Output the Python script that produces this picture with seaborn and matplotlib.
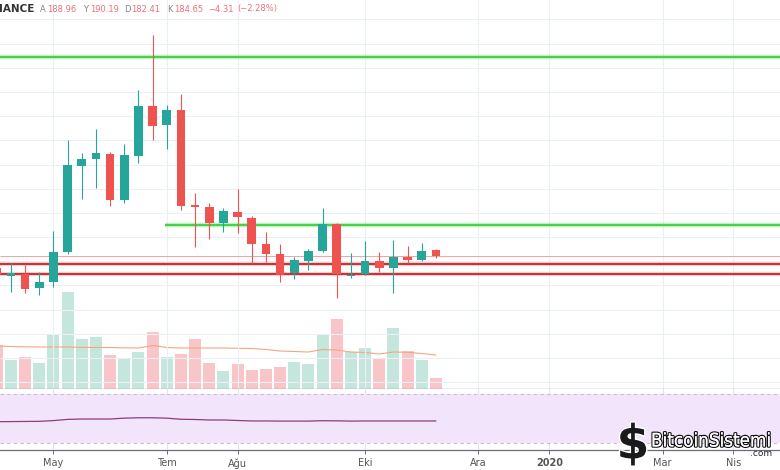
import numpy as np
import pandas as pd
import seaborn as sns
import matplotlib.pyplot as plt
import matplotlib.patheffects as pe

# weekly candles (Binance, 1W)
week_start = '2019-04-08'
opens = [174.5, 167.8, 169.5, 157.9, 162.9, 187.7, 258.8, 264.6, 268.7, 230.7,
         267.1, 308.4, 292.7, 305.1, 226.6, 224.9, 211.7, 220.8, 215.8, 194.3,
         186.0, 170.3, 180.2, 188.5, 210.9, 167.8, 169.5, 180.2, 174.5, 183.6,
         181.1, 188.96]
highs = [176.9, 178.6, 176.9, 171.2, 205.1, 280.3, 269.6, 289.4, 270.5, 277.0,
         321.7, 367.2, 309.3, 318.4, 236.5, 228.2, 224.1, 239.8, 217.5, 204.2,
         194.3, 183.6, 190.2, 224.1, 211.7, 186.9, 196.8, 187.7, 197.6, 192.7,
         195.1, 190.19]
lows = [164.5, 154.6, 153.8, 152.1, 158.7, 186.0, 231.5, 240.6, 225.7, 228.2,
        261.3, 280.3, 272.9, 222.4, 191.8, 198.4, 204.2, 203.4, 178.6, 179.4,
        162.9, 165.4, 172.8, 187.7, 149.7, 166.2, 168.7, 171.2, 153.8, 178.6,
        180.5, 182.41]
closes = [168.7, 170.3, 157.1, 162.9, 187.7, 259.6, 264.6, 269.6, 230.7, 267.9,
          308.4, 291.9, 305.1, 225.7, 224.9, 211.7, 221.6, 216.6, 194.3, 186.0,
          168.7, 181.1, 188.5, 210.9, 169.5, 168.7, 180.2, 174.5, 183.6, 181.1,
          188.5, 184.65]

# volume (thousands) and its moving average
volume = [2200, 1450, 1600, 1300, 2700, 4850, 2500, 2600, 1700, 1500,
          1850, 2850, 1600, 1750, 2500, 1300, 900, 1250, 950, 1000,
          1100, 1350, 1250, 2700, 3500, 1850, 2050, 1500, 3050, 1900,
          1450, 550]
volume_ma = [2150, 2125, 2110, 2100, 2100, 2100, 2085, 2075, 2075, 2060,
             2050, 2175, 2075, 2050, 2050, 2050, 2050, 2035, 2025, 1975,
             1900, 1875, 1850, 1975, 1950, 1850, 1825, 1750, 1850, 1835,
             1775, 1700]

# lower indicator pane
rsi = [47.4, 47.5, 47.6, 47.7, 48.3, 49.3, 49.6, 49.6, 49.6, 50.3,
       50.6, 50.6, 50.3, 49.4, 49.2, 48.8, 48.8, 48.4, 48.0, 48.0,
       47.9, 47.9, 47.9, 48.2, 48.1, 47.9, 48.0, 48.0, 48.0, 48.0,
       48.0, 48.0]

# drawn levels
resistance_top = 349.0
resistance_mid = 210.0
resistance_mid_from = '2019-06-30'
support_levels = [177.4, 169.1]

tick_dates = ['2019-05-06', '2019-07-01', '2019-08-05', '2019-10-07',
              '2019-12-02', '2020-01-06', '2020-03-02', '2020-04-06']
tick_labels = ['May', 'Tem', 'Ağu', 'Eki', 'Ara', '2020', 'Mar', 'Nis']

header_name = 'IANCE'
header_fields = [('A', '188.96'), ('Y', '190.19'), ('D', '182.41'), ('K', '184.65')]
header_change = ['\u22124.31', '(\u22122.28%)']

sns.set_theme(style='white')
plt.rcParams['font.family'] = ['DejaVu Sans']

UP, DOWN = '#26a69a', '#ef5350'
UP_VOL, DOWN_VOL = '#c4e6dc', '#f8c5c9'

df = pd.DataFrame({'date': pd.date_range(week_start, periods=len(opens), freq='7D'),
                   'open': opens, 'high': highs, 'low': lows, 'close': closes,
                   'volume': volume, 'volume_ma': volume_ma, 'rsi': rsi})
up = df['close'] >= df['open']
colors = np.where(up, UP, DOWN)
vol_colors = np.where(up, UP_VOL, DOWN_VOL)

W, H = 780, 470
fig = plt.figure(figsize=(7.8, 4.7), dpi=100)
main_rect = [0, 1 - 389 / H, 1, 389 / H]
ax_vol = fig.add_axes(main_rect)
ax = fig.add_axes(main_rect, sharex=ax_vol)
ax_ind = fig.add_axes([0, 1 - 450 / H, 1, 61 / H], sharex=ax_vol)

start = pd.Timestamp(week_start)
x_left = start + pd.Timedelta(days=1.6)
x_right = start + pd.Timedelta(days=387)
grid_c = '#eceff4'

# volume overlay
ax_vol.bar(df['date'], df['volume'], width=5.9, color=vol_colors, linewidth=0)
sns.lineplot(x=df['date'], y=df['volume_ma'], ax=ax_vol, color='#f3a77c', lw=0.8)
ax_vol.set_ylim(0, 19450)
ax_vol.set_yticks([])
ax_vol.set_ylabel('')
for s in ax_vol.spines.values():
    s.set_visible(False)
ax_vol.tick_params(labelbottom=False, bottom=False)

# price pane
ax.patch.set_visible(False)
ax.set_xticks(pd.to_datetime(tick_dates))
ax.set_yticks(np.arange(80, 400, 20))
ax.grid(True, color=grid_c, lw=0.8)
ax.tick_params(labelbottom=False, labelleft=False, bottom=False, left=False)
for name, s in ax.spines.items():
    s.set_visible(name == 'bottom')
ax.spines['bottom'].set_color('#6a6d78')
ax.spines['bottom'].set_linewidth(0.9)

ax.hlines(resistance_top, x_left, x_right, color='#7be37b', lw=3.2, alpha=0.5)
ax.hlines(resistance_top, x_left, x_right, color='#3ccf3c', lw=1.3)
ax.hlines(resistance_mid, pd.Timestamp(resistance_mid_from), x_right, color='#7be37b', lw=3.2, alpha=0.5)
ax.hlines(resistance_mid, pd.Timestamp(resistance_mid_from), x_right, color='#3ccf3c', lw=1.3)
ax.hlines(closes[-1], x_left, x_right, color='#f2a3a6', lw=0.7)
for lvl in support_levels:
    ax.hlines(lvl, x_left, x_right, color='#ee8f92', lw=3.0, alpha=0.45)
    ax.hlines(lvl, x_left, x_right, color='#c0262d', lw=1.3)

ax.vlines(df['date'], df['low'], df['high'], colors=colors, lw=0.8, zorder=3)
body_h = np.maximum((df['close'] - df['open']).abs(), 0.9)
ax.bar(df['date'], body_h, bottom=np.minimum(df['open'], df['close']),
       width=4.3, color=colors, linewidth=0, zorder=4)
ax.set_ylim(74.4, 396.1)
ax.set_xlim(x_left, x_right)

# indicator pane
ax_ind.axhspan(30, 70, color='#f2e5fb', lw=0)
ax_ind.axhline(70, color='#c9bcd8', lw=0.8, ls=(0, (3, 3)))
ax_ind.axhline(30, color='#c9bcd8', lw=0.8, ls=(0, (3, 3)))
sns.lineplot(x=df['date'], y=df['rsi'], ax=ax_ind, color='#8a3d7f', lw=0.9)
ax_ind.set_ylim(24.3, 74.1)
ax_ind.set_yticks([])
ax_ind.set_ylabel('')
ax_ind.set_xlabel('')
ax_ind.xaxis.grid(True, color='#e6e0ee', lw=0.8)
for name, s in ax_ind.spines.items():
    s.set_visible(name == 'bottom')
ax_ind.spines['bottom'].set_color('#6a6d78')
ax_ind.spines['bottom'].set_linewidth(0.9)
ax_ind.set_xticks(pd.to_datetime(tick_dates))
ax_ind.set_xticklabels(tick_labels)
ax_ind.tick_params(axis='x', labelsize=7, colors='#555555', length=3, width=0.6,
                   pad=3, bottom=True, direction='out')
ax_ind.get_xticklabels()[5].set_fontweight('bold')
ax_ind.set_xlim(x_left, x_right)

# header line
def px(x, y):
    return x / W, 1 - y / H

fig.text(*px(-1, 9), header_name, fontsize=7.5, color='#333333', fontweight='bold', va='center')
pink = '#ec707a'
xs = [(40, 47), (83, 90), (124, 131), (167, 174)]
for (lx, vx), (letter, value) in zip(xs, header_fields):
    fig.text(*px(lx, 9), letter, fontsize=6, color='#8a7f82', va='center')
    fig.text(*px(vx, 9), value, fontsize=6, color=pink, va='center')
fig.text(*px(208, 9), header_change[0], fontsize=6, color=pink, va='center')
fig.text(*px(237, 9), header_change[1], fontsize=6, color=pink, va='center')

# watermark
stroke = [pe.withStroke(linewidth=2, foreground='white')]
fig.text(*px(633, 446), '$', fontsize=34, fontweight='bold', color='#1a1a1a',
         ha='center', va='center', path_effects=stroke)
fig.text(*px(651, 441), 'BitcoinSistemi', fontsize=13.5, color='white',
         fontstretch='condensed', ha='left', va='center',
         path_effects=[pe.withStroke(linewidth=1.8, foreground='#111111'), pe.Normal()])
fig.text(*px(772, 454), '.com', fontsize=6.5, color='#222222', ha='right', va='center')

fig.savefig('out.png', dpi=100)
